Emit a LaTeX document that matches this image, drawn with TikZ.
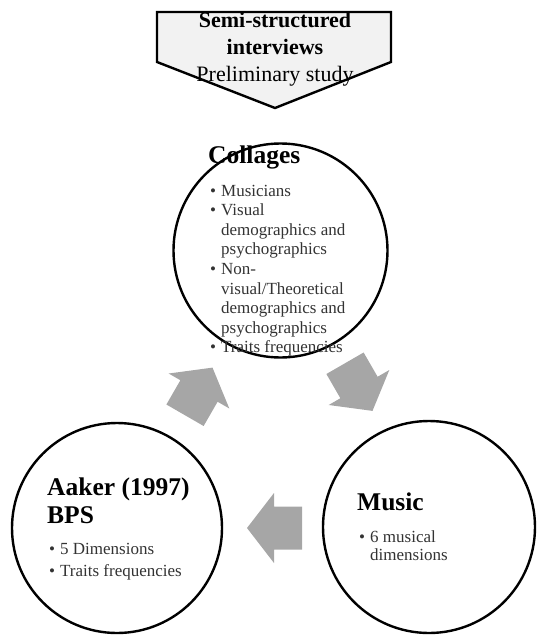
\documentclass[tikz,border=0pt]{standalone}
\usepackage{fontspec}
\setmainfont{Liberation Serif}
\definecolor{arrowgray}{HTML}{A6A6A6}
\definecolor{pentfill}{HTML}{F2F2F2}
\definecolor{bodytext}{HTML}{333333}
\newcommand{\linestack}[2]{\vtop{\baselineskip=#1\lineskiplimit=-100pt\lineskip=0pt #2}}
\newcommand{\bline}[1]{\hbox{\makebox[11pt][l]{\textbullet}#1}}
\newcommand{\bcont}[1]{\hbox{\hspace*{11pt}#1}}
\newcommand{\ctrline}[1]{\hbox to 0pt{\hss #1\hss}}
\begin{document}
\begin{tikzpicture}[x=1pt,y=-1pt,
  ring/.style={circle, draw=black, line width=2.4pt, fill=white, inner sep=0pt},
  ctitle/.style={font=\fontsize{25.5}{28}\selectfont\bfseries, text=black, anchor=base west, inner sep=0pt},
  ctext/.style={font=\fontsize{17}{19.6}\selectfont, text=bodytext, anchor=base west, inner sep=0pt},
  blockarrow/.pic={\fill[arrowgray] (27,0) -- (0,35) -- (0,21.5) -- (-28,21.5) -- (-28,-21.5) -- (0,-21.5) -- (0,-35) -- cycle;}]
\useasboundingbox (0,0) rectangle (537,635);

% circles
\node[ring, minimum size=214pt] (collages) at (280.5,250.5) {};
\node[ring, minimum size=210pt] (aaker) at (117,528) {};
\node[ring, minimum size=212pt] (music) at (429,527) {};

% top pentagon
\coordinate (pTL) at (157,12);
\coordinate (pTR) at (391,12);
\coordinate (pR) at (391,62);
\coordinate (pTip) at (275,108);
\coordinate (pL) at (157,62);
\draw[line width=2.4pt, fill=pentfill, line join=miter] (pTL) -- (pTR) -- (pR) -- (pTip) -- (pL) -- cycle;
\node[anchor=base, inner sep=0pt, font=\fontsize{22}{27.3}\selectfont] (interviews) at (275,27)
  {\linestack{27.3pt}{\ctrline{\bfseries Semi-structured}\ctrline{\bfseries interviews}\ctrline{Preliminary study}}};

% block arrows
\pic[rotate=60] (arrowA) at (199,391) {blockarrow};
\pic[rotate=-60] (arrowB) at (359,387.5) {blockarrow};
\pic[rotate=180] (arrowC) at (274,528) {blockarrow};

% Collages
\node[ctitle] (collagesT) at (208,163) {Collages};
\node[ctext] (collagesL) at (210,196) {\linestack{19.6pt}{%
  \bline{Musicians}\bline{Visual}\bcont{demographics and}\bcont{psychographics}%
  \bline{Non-}\bcont{visual/Theoretical}\bcont{demographics and}\bcont{psychographics}%
  \bline{Traits frequencies}}};

% Aaker
\node[ctitle] (aakerT) at (47,495) {\linestack{28.3pt}{\hbox{Aaker (1997)}\hbox{BPS}}};
\node[ctext] (aakerL) at (49,554.3) {\linestack{21.7pt}{\bline{5 Dimensions}\bline{Traits frequencies}}};

% Music
\node[ctitle] (musicT) at (357,510.7) {Music};
\node[ctext] (musicL) at (359,542.7) {\linestack{18pt}{\bline{6 musical}\bcont{dimensions}}};
\end{tikzpicture}
\end{document}
